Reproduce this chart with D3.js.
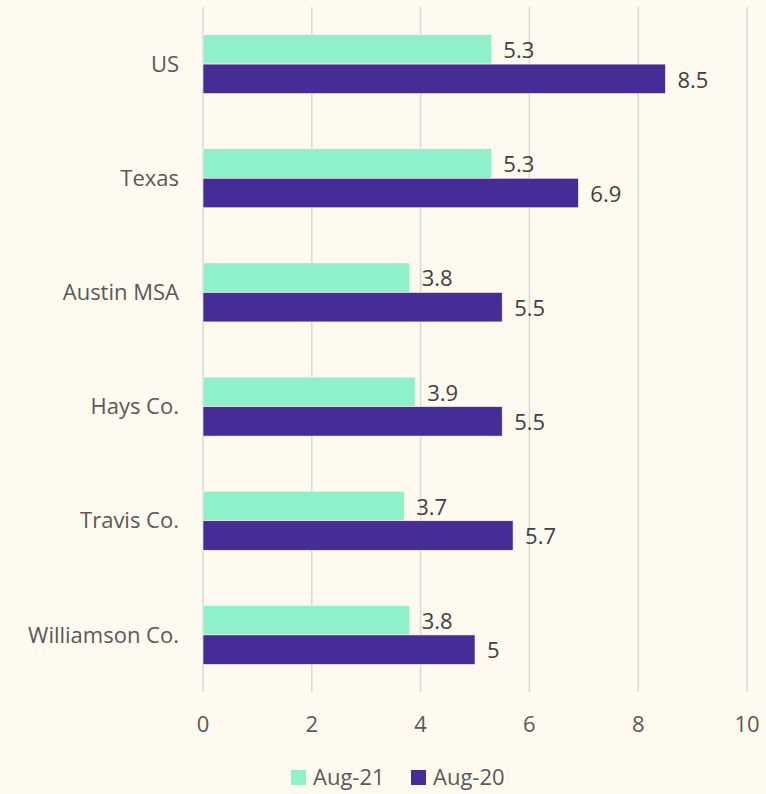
<!DOCTYPE html>
<html>
<head>
<meta charset="utf-8">
<script src="https://cdn.jsdelivr.net/npm/d3@7"></script>
<style>
  html, body { margin: 0; padding: 0; background: #fffaef; }
  svg { display: block; }
  text { font-family: "Open Sans", Lato, sans-serif; }
</style>
</head>
<body>
<div id="chart"></div>
<script>
// unemployment rate by area
const areas = ["US", "Texas", "Austin MSA", "Hays Co.", "Travis Co.", "Williamson Co."];
const aug21 = [5.3, 5.3, 3.8, 3.9, 3.7, 3.8];
const aug20 = [8.5, 6.9, 5.5, 5.5, 5.7, 5];
const seriesNames = ["Aug-21", "Aug-20"];
const xTicks = [0, 2, 4, 6, 8, 10];

const colors = { "Aug-21": "#8ff0cc", "Aug-20": "#452c96" };

const width = 766, height = 794;
const margin = { top: 7, right: 19, bottom: 102, left: 203 };

const svg = d3.select("#chart").append("svg")
    .attr("width", width)
    .attr("height", height);

svg.append("rect").attr("width", width).attr("height", height).attr("fill", "#fffaef");

const x = d3.scaleLinear().domain([0, 10]).range([margin.left, width - margin.right]);
const y = d3.scaleBand().domain(areas)
    .range([margin.top, height - margin.bottom])
    .paddingInner(0.483).paddingOuter(0.2415);
const ySub = d3.scaleBand().domain(seriesNames).range([0, y.bandwidth()]);

// gridlines
svg.append("g")
  .selectAll("line")
  .data(xTicks)
  .enter()
  .append("line")
    .attr("x1", d => x(d)).attr("x2", d => x(d))
    .attr("y1", margin.top).attr("y2", height - margin.bottom)
    .style("stroke", "#d9d9d9")
    .style("stroke-width", 1.5);

// x tick labels
svg.append("g")
  .selectAll("text")
  .data(xTicks)
  .enter()
  .append("text")
    .attr("x", d => x(d))
    .attr("y", 732)
    .attr("text-anchor", "middle")
    .style("font-size", "22px")
    .style("fill", "#595959")
    .text(d => d);

// category labels
svg.append("g")
  .selectAll("text")
  .data(areas)
  .enter()
  .append("text")
    .attr("x", 179)
    .attr("y", d => y(d) + y.bandwidth() / 2)
    .attr("dy", "0.35em")
    .attr("text-anchor", "end")
    .style("font-size", "22px")
    .style("fill", "#595959")
    .text(d => d);

const rows = [];
areas.forEach((a, i) => {
  rows.push({ area: a, series: "Aug-21", value: aug21[i] });
  rows.push({ area: a, series: "Aug-20", value: aug20[i] });
});

// bars
svg.append("g")
  .selectAll("rect")
  .data(rows)
  .enter()
  .append("rect")
    .attr("x", x(0))
    .attr("y", d => y(d.area) + ySub(d.series))
    .attr("width", d => x(d.value) - x(0))
    .attr("height", ySub.bandwidth())
    .style("fill", d => colors[d.series])
    .style("stroke", "#fffaef")
    .style("stroke-width", 0.6);

// value labels
svg.append("g")
  .selectAll("text")
  .data(rows)
  .enter()
  .append("text")
    .attr("x", d => x(d.value) + 12)
    .attr("y", d => y(d.area) + ySub(d.series) + ySub.bandwidth() / 2 + 1)
    .attr("dy", "0.35em")
    .style("font-size", "22px")
    .style("fill", "#404040")
    .text(d => d.value);

// legend
const legendItems = [{ name: "Aug-21", x: 291 }, { name: "Aug-20", x: 411 }];
const legend = svg.append("g")
  .selectAll("g")
  .data(legendItems)
  .enter()
  .append("g")
    .attr("transform", d => `translate(${d.x},770)`);
legend.append("rect")
    .attr("width", 15).attr("height", 15)
    .style("fill", d => colors[d.name]);
legend.append("text")
    .attr("x", 22).attr("y", 7.5)
    .attr("dy", "0.35em")
    .style("font-size", "22px")
    .style("fill", "#595959")
    .text(d => d.name);
</script>
</body>
</html>
